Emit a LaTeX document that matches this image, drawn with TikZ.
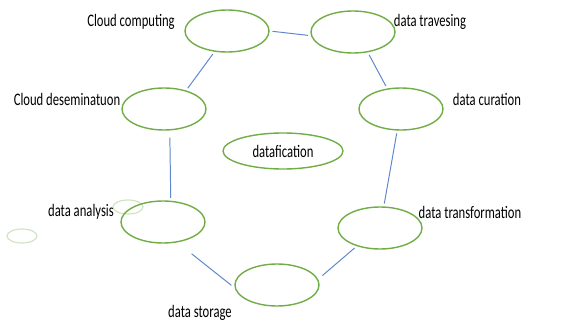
\documentclass[tikz,border=0pt]{standalone}
\usepackage{fontspec}
\setmainfont{Carlito}[FakeStretch=0.72]
\usepackage{tikz}
\usetikzlibrary{shapes.geometric}

\definecolor{stepgreen}{RGB}{112,173,71}
\definecolor{linkblue}{RGB}{68,114,196}

\tikzset{
  stage/.style={ellipse, draw=stepgreen, line width=1pt, inner sep=0pt,
    minimum width=2.1cm, minimum height=1.05cm},
  ghost/.style={ellipse, draw=stepgreen!35, line width=0.8pt, inner sep=0pt,
    minimum width=0.75cm, minimum height=0.35cm},
  link/.style={draw=linkblue!85, line width=0.7pt, shorten <=2pt, shorten >=2pt},
  caption/.style={inner sep=0pt, font=\fontsize{12.5}{14}\selectfont}
}

\begin{document}
\begin{tikzpicture}
  \useasboundingbox (0,0) rectangle (14.075,8.05);

  % faint leftovers
  \node[ghost] (g1) at (3.2,2.875) {};
  \node[ghost] (g2) at (0.55,2.15) {};

  % cycle
  \node[stage] (cc) at (5.675,7.275) {};
  \node[stage] (dt) at (8.825,7.25) {};
  \node[stage] (cd) at (4.1,5.325) {};
  \node[stage] (dc) at (10.025,5.325) {};
  \node[stage] (da) at (4.075,2.5) {};
  \node[stage] (dtr) at (9.5,2.35) {};
  \node[stage] (ds) at (6.925,0.925) {};
  \node[stage, minimum width=3cm, minimum height=0.9cm, caption] (df) at (7.075,4.275) {datafication};

  % labels
  \node[caption] (lcc) at (3.275,7.5) {Cloud computing};
  \node[caption] (ldt) at (10.75,7.5) {data travesing};
  \node[caption] (lcd) at (1.675,5.575) {Cloud deseminatuon};
  \node[caption] (ldc) at (12.175,5.575) {data curation};
  \node[caption] (lda) at (2.025,2.75) {data analysis};
  \node[caption] (ldtr) at (11.75,2.75) {data transformation};
  \node[caption] (lds) at (5.0,0.225) {data storage};

  % links
  \draw[link] (cc.east) -- (dt.185);
  \draw[link] (cc.239) -- (cd.40);
  \draw[link] (dt.306) -- (dc.124);
  \draw[link, shorten <=5pt] (cd.285) -- (da.70);
  \draw[link] (dc.260) -- (dtr.80);
  \draw[link, shorten >=4pt] (dtr.218) -- (ds.8);
  \draw[link, shorten <=13pt, shorten >=3pt] (da.305) -- (ds.184);
\end{tikzpicture}
\end{document}
